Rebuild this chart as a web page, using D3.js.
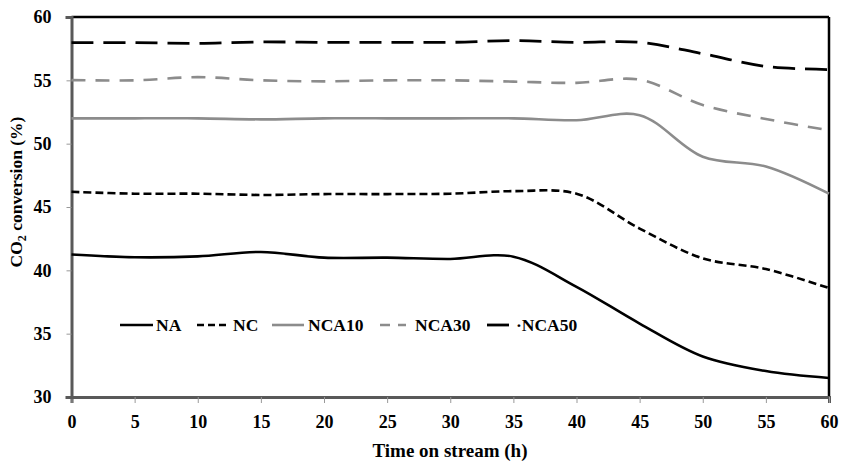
<!DOCTYPE html>
<html><head><meta charset="utf-8">
<script src="https://cdn.jsdelivr.net/npm/d3@7"></script>
<style>body{margin:0;background:#fff}svg{display:block}</style>
</head><body><div id="chart"></div>
<script>
const hours = [0,5,10,15,20,25,30,35,40,45,50,55,60];
const NA    = [41.25,41.03,41.1,41.45,41.0,41.0,40.9,41.08,38.7,35.8,33.2,32.05,31.5];
const NC    = [46.2,46.05,46.05,45.95,46.02,46.02,46.05,46.25,46.05,43.3,40.95,40.1,38.6];
const NCA10 = [52.0,52.0,52.0,51.92,52.0,52.0,52.0,52.0,51.85,52.25,48.97,48.2,46.05];
const NCA30 = [55.02,55.0,55.25,55.0,54.92,55.0,55.0,54.9,54.8,55.05,53.05,51.95,51.05];
const NCA50 = [57.98,57.98,57.92,58.03,58.0,58.0,58.0,58.13,58.0,58.0,57.1,56.1,55.85];
const seriesNames = ["NA","NC","NCA10","NCA30","NCA50"];
const legendLabels = ["NA","NC","NCA10","NCA30","·NCA50"];
const xTicks = [0,5,10,15,20,25,30,35,40,45,50,55,60];
const yTicks = [30,35,40,45,50,55,60];

const W=841,H=462;
const m={l:71.5,r:12,t:17,b:65};
const svg=d3.select("#chart").append("svg").attr("width",W).attr("height",H);
const x=d3.scaleLinear().domain([0,60]).range([m.l,W-m.r]);
const y=d3.scaleLinear().domain([30,60]).range([H-m.b,m.t]);
const font="'Liberation Serif', 'DejaVu Serif', serif";

const styles={
  NA:{c:"#000",w:2.6,d:null},
  NC:{c:"#000",w:2.6,d:"8,4"},
  NCA10:{c:"#8c8c8c",w:2.6,d:null},
  NCA30:{c:"#8c8c8c",w:2.6,d:"14,10"},
  NCA50:{c:"#000",w:2.8,d:"22,10"}
};
const data={NA,NC,NCA10,NCA30,NCA50};

// frame
svg.append("line").attr("x1",x(0)).attr("x2",x(60)).attr("y1",y(60)).attr("y2",y(60)).attr("stroke","#000").attr("stroke-width",2.5);
svg.append("line").attr("x1",x(60)).attr("x2",x(60)).attr("y1",y(60)).attr("y2",y(30)).attr("stroke","#000").attr("stroke-width",2.5);

const xa=svg.append("g").attr("transform",`translate(0,${y(30)})`)
  .call(d3.axisBottom(x).tickValues(xTicks).tickSize(6).tickPadding(12).tickFormat(d3.format("d")));
const ya=svg.append("g").attr("transform",`translate(${x(0)},0)`)
  .call(d3.axisLeft(y).tickValues(yTicks).tickSize(6).tickPadding(14).tickFormat(d3.format("d")));
[xa,ya].forEach(a=>{
  a.select(".domain").attr("stroke","#595959").attr("stroke-width",3);
  a.selectAll(".tick line").attr("stroke","#999").attr("stroke-width",1);
  a.selectAll("text").attr("font-family",font).attr("font-weight","bold").attr("font-size",18).attr("fill","#000");
});
ya.selectAll(".tick line").attr("x2",-5);
ya.selectAll(".tick").filter(d=>d===30||d===60).select("line").remove();

// lines
const line=d3.line().x((d,i)=>x(hours[i])).y(d=>y(d)).curve(d3.curveCatmullRom.alpha(0.5));
seriesNames.forEach(n=>{
  const s=styles[n];
  svg.append("path").datum(data[n]).attr("d",line).attr("fill","none")
    .attr("stroke",s.c).attr("stroke-width",s.w).attr("stroke-dasharray",s.d);
});

// legend
const legX=[120,197,272,380,487], legLen=[33,30,32,26,22], txtX=[156,233,308,415,516];
const ly=325;
seriesNames.forEach((n,i)=>{
  const s=styles[n];
  svg.append("line").attr("x1",legX[i]).attr("x2",legX[i]+legLen[i]).attr("y1",ly).attr("y2",ly)
    .attr("stroke",s.c).attr("stroke-width",s.w).attr("stroke-dasharray",n==="NCA30"?"10,8":(n==="NC"?"7,4":null));
  svg.append("text").attr("x",txtX[i]).attr("y",ly).attr("dy","0.35em")
    .attr("font-family",font).attr("font-weight","bold").attr("font-size",17.5).text(legendLabels[i]);
});

// axis titles
svg.append("text").attr("x",450).attr("y",457).attr("text-anchor","middle")
  .attr("font-family",font).attr("font-weight","bold").attr("font-size",19).text("Time on stream (h)");
const yt=svg.append("text").attr("transform",`translate(22,192) rotate(-90)`).attr("text-anchor","middle")
  .attr("font-family",font).attr("font-weight","bold").attr("font-size",17.5);
yt.append("tspan").text("CO");
yt.append("tspan").attr("font-size",12).attr("dy",4).text("2");
yt.append("tspan").attr("dy",-4).text(" conversion (%)");
</script></body></html>
